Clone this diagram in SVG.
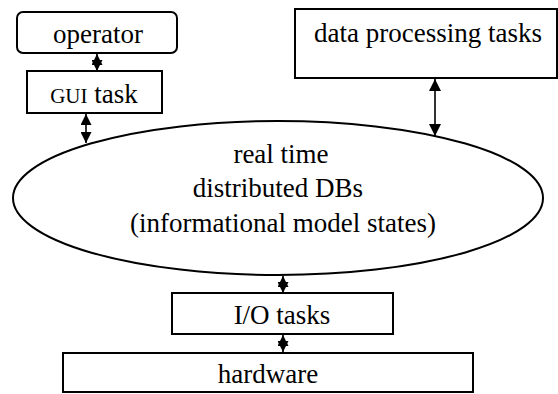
<svg xmlns="http://www.w3.org/2000/svg" width="558" height="394" viewBox="0 0 558 394">
<style>
  .box { fill: #ffffff; stroke: #000000; stroke-width: 2; }
  .lbl { font-family: "Liberation Serif", "Times New Roman", serif; font-size: 27px; fill: #000000; text-anchor: middle; }
  .conn { stroke: #000000; stroke-width: 1.6; fill: none; }
</style>
<defs>
  <marker id="star" viewBox="0 0 10 10" refX="10" refY="5" markerUnits="userSpaceOnUse" markerWidth="11" markerHeight="11" orient="auto-start-reverse">
    <path d="M0,0 L10,5 L0,10 z" fill="#000000"/>
  </marker>
  <marker id="big" viewBox="0 0 10 10" refX="10" refY="5" markerUnits="userSpaceOnUse" markerWidth="14" markerHeight="11" orient="auto-start-reverse">
    <path d="M0,0 L10,5 L0,10 z" fill="#000000"/>
  </marker>
  <marker id="wide" viewBox="0 0 10 10" refX="10" refY="5" markerUnits="userSpaceOnUse" markerWidth="12" markerHeight="15" orient="auto-start-reverse">
    <path d="M0,0 L10,5 L0,10 z" fill="#000000"/>
  </marker>
</defs>
<rect width="558" height="394" fill="#ffffff"/>

<g id="db">
  <ellipse class="box" cx="278" cy="198" rx="265" ry="77"/>
  <text class="lbl" x="281" y="163">real time</text>
  <text class="lbl" x="278" y="197">distributed DBs</text>
  <text class="lbl" x="283" y="232">(informational model states)</text>
</g>

<g id="operator">
  <rect class="box" x="17" y="12" width="160" height="41" rx="6" ry="6"/>
  <text class="lbl" x="98" y="43">operator</text>
</g>

<g id="gui">
  <rect class="box" x="27" y="71" width="135" height="42"/>
  <text class="lbl" x="94" y="103"><tspan font-size="21">GUI</tspan> task</text>
</g>

<g id="dataproc">
  <rect class="box" x="295" y="9" width="262" height="69"/>
  <text class="lbl" x="428" y="42">data processing tasks</text>
</g>

<g id="io">
  <rect class="box" x="172" y="293" width="221" height="41"/>
  <text class="lbl" x="282" y="324">I/O tasks</text>
</g>

<g id="hardware">
  <rect class="box" x="63" y="353" width="410" height="39"/>
  <text class="lbl" x="268" y="383">hardware</text>
</g>

<g id="connectors">
  <line class="conn" x1="97" y1="54" x2="97" y2="71" marker-start="url(#star)" marker-end="url(#star)"/>
  <line class="conn" x1="86" y1="114" x2="86" y2="143" marker-start="url(#big)" marker-end="url(#big)"/>
  <line class="conn" x1="435" y1="79" x2="435" y2="136" marker-start="url(#wide)" marker-end="url(#wide)"/>
  <line class="conn" x1="283" y1="276" x2="283" y2="293" marker-start="url(#star)" marker-end="url(#star)"/>
  <line class="conn" x1="283" y1="335" x2="283" y2="352" marker-start="url(#star)" marker-end="url(#star)"/>
</g>
</svg>
